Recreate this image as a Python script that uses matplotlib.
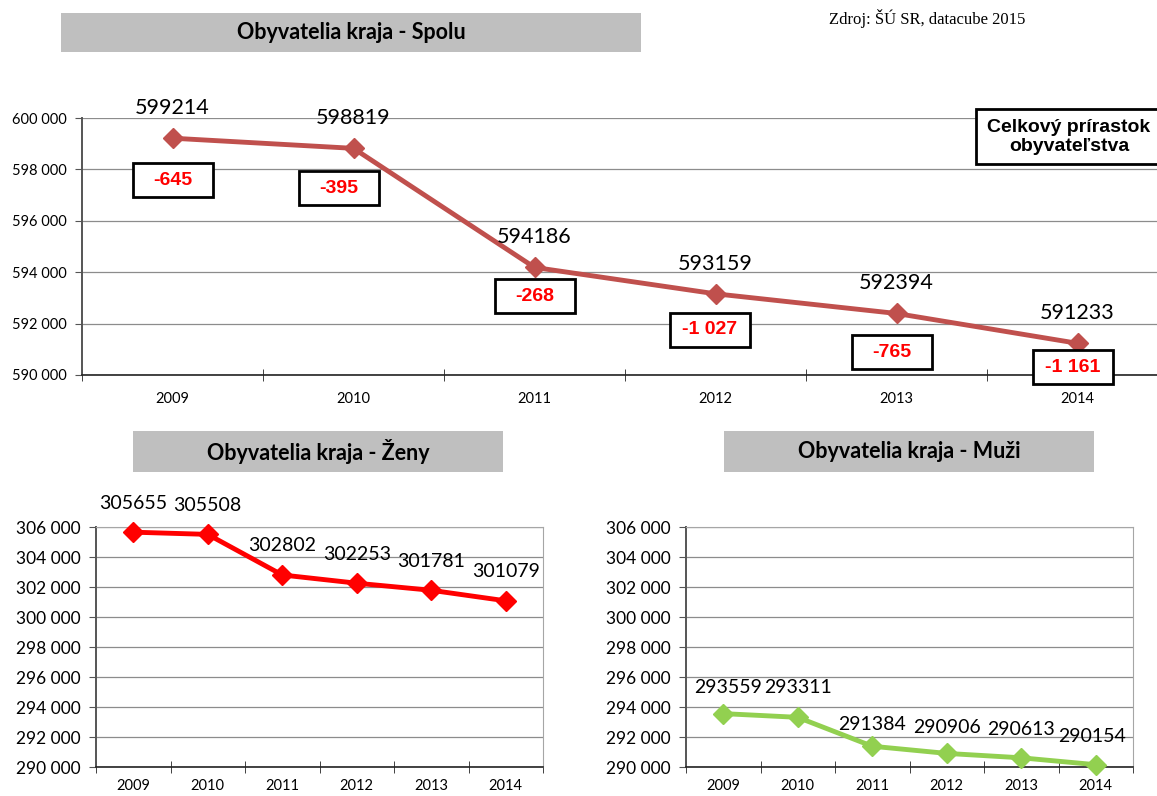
import matplotlib
matplotlib.use("Agg")
import matplotlib.pyplot as plt
from matplotlib.patches import Rectangle
from matplotlib.ticker import FuncFormatter, MultipleLocator

years = ["2009", "2010", "2011", "2012", "2013", "2014"]
spolu = [599214, 598819, 594186, 593159, 592394, 591233]
zeny = [305655, 305508, 302802, 302253, 301781, 301079]
muzi = [293559, 293311, 291384, 290906, 290613, 290154]
prirastok = [-645, -395, -268, -1027, -765, -1161]

W, H = 1157, 796
CAL = ["Lato", "DejaVu Sans"]
ARIAL = ["Liberation Sans", "DejaVu Sans"]
GRID = "#8c8c8c"

fig = plt.figure(figsize=(W / 100, H / 100), dpi=100)


def box(x0, y0, x1, y1):
    # pixel coords (top-left origin) -> figure fraction
    return [x0 / W, 1 - y1 / H, (x1 - x0) / W, (y1 - y0) / H]


def title_bar(x0, y0, x1, y1, text):
    l, b, w, h = box(x0, y0, x1, y1)
    fig.patches.append(Rectangle((l, b), w, h, transform=fig.transFigure,
                                 facecolor="#bfbfbf", edgecolor="none"))
    fig.text(l + w / 2, b + h / 2, text, ha="center", va="center",
             fontsize=15.5, fontweight="bold", family=CAL)


def sp(v, _=None):
    return f"{int(v):,}".replace(",", " ")


def setup(ax, lo, hi, ysize, frame, xpad):
    ax.set_xlim(-0.5, 5.5)
    ax.set_ylim(lo, hi)
    ax.yaxis.set_major_locator(MultipleLocator(2000))
    ax.yaxis.set_major_formatter(FuncFormatter(sp))
    ax.grid(axis="y", color=GRID, lw=0.9)
    ax.set_axisbelow(True)
    ax.set_xticks(range(len(years)))
    ax.set_xticklabels(years, family=CAL, fontsize=10.5)
    ax.set_xticks([i - 0.5 for i in range(len(years) + 1)], minor=True)
    ax.tick_params(axis="x", which="major", length=0, pad=xpad)
    ax.tick_params(axis="x", which="minor", length=9, direction="inout", color="#222222")
    ax.tick_params(axis="y", length=5, color="#555555", pad=6, labelsize=ysize)
    for lab in ax.get_yticklabels():
        lab.set_family(CAL)
    ax.spines["left"].set_color("#555555")
    ax.spines["left"].set_linewidth(1.4)
    ax.spines["bottom"].set_color("#222222")
    ax.spines["bottom"].set_linewidth(1.2)
    for s in ("top", "right"):
        ax.spines[s].set_visible(frame)
        ax.spines[s].set_color("#a6a6a6")


# --- top: Spolu ---
ax = fig.add_axes(box(82, 118, 1168, 375))
setup(ax, 590000, 600000, 10.5, False, 12)
x = range(len(years))
ax.plot(x, spolu, color="#c0504d", lw=3.5, marker="D", ms=10, clip_on=False, zorder=3)
for i, v in enumerate(spolu):
    ax.annotate(str(v), (i, v), xytext=(0, 30), textcoords="offset pixels",
                ha="center", va="center", fontsize=15.5, family=CAL)
# callout boxes with the yearly increase (offsets in px below the point)
box_dx = [0, -15, 0, -6, -5, -5]
box_dy = [42, 40, 29, 36, 39, 24]
ppx = 181.0            # px per category
ppy = 257.0 / 10000    # px per person
for i, (v, d) in enumerate(zip(spolu, prirastok)):
    cx = i + box_dx[i] / ppx
    cy = v - box_dy[i] / ppy
    bw, bh = 80 / ppx, 34 / ppy
    ax.add_patch(Rectangle((cx - bw / 2, cy - bh / 2), bw, bh, facecolor="white",
                           edgecolor="black", lw=2, zorder=4, clip_on=False))
    ax.text(cx, cy, sp(d) if d > -1000 else "-" + sp(-d), ha="center", va="center",
            color="#ff0000", fontsize=14, fontweight="bold", family=ARIAL,
            zorder=5, clip_on=False)

title_bar(61, 13, 641, 52, "Obyvatelia kraja - Spolu")
fig.text(829 / W, 1 - 18 / H, "Zdroj: ŠÚ SR, datacube 2015", ha="left", va="center",
         fontsize=12, family=["Liberation Serif", "DejaVu Serif"])
l, b, w, h = box(976, 109, 1163, 164)
fig.patches.append(Rectangle((l, b), w, h, transform=fig.transFigure, facecolor="white",
                             edgecolor="black", lw=2, zorder=5))
fig.text(1069 / W, 1 - 137 / H, "Celkový prírastok\nobyvateľstva", ha="center",
         va="center", fontsize=14, fontweight="bold", family=ARIAL, linespacing=1.1,
         zorder=6)

# --- bottom left: Zeny ---
ax2 = fig.add_axes(box(96, 527, 543, 767))
setup(ax2, 290000, 306000, 12.5, True, 9)
ax2.plot(x, zeny, color="#ff0000", lw=3.5, marker="D", ms=10, clip_on=False, zorder=3)
for i, v in enumerate(zeny):
    ax2.annotate(str(v), (i, v), xytext=(0, 29), textcoords="offset pixels",
                 ha="center", va="center", fontsize=14, family=CAL)
title_bar(133, 431, 503, 472, "Obyvatelia kraja - Ženy")

# --- bottom right: Muzi ---
ax3 = fig.add_axes(box(686, 527, 1133, 767))
setup(ax3, 290000, 306000, 12.5, True, 9)
ax3.plot(x, muzi, color="#92d050", lw=3.5, marker="D", ms=10, clip_on=False, zorder=3)
lab_dx = [5, 0, 0, 0, 0, -4]
lab_dy = [26, 30, 22, 26, 28, 28]
for i, v in enumerate(muzi):
    ax3.annotate(str(v), (i, v), xytext=(lab_dx[i], lab_dy[i]), textcoords="offset pixels",
                 ha="center", va="center", fontsize=14, family=CAL)
title_bar(724, 431, 1094, 472, "Obyvatelia kraja - Muži")

fig.savefig("out.png", dpi=100)
